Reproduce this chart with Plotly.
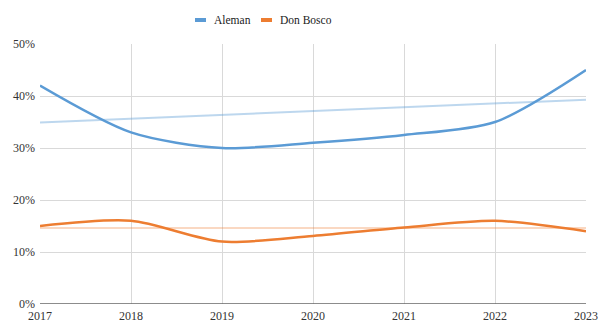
import plotly.graph_objects as go

years = [2017, 2018, 2019, 2020, 2021, 2022, 2023]
aleman = [0.42, 0.33, 0.30, 0.31, 0.325, 0.35, 0.45]
don_bosco = [0.15, 0.16, 0.12, 0.131, 0.147, 0.16, 0.14]
trend_years = [2017, 2023]
aleman_trend = [0.349, 0.393]
don_bosco_trend = [0.146, 0.146]
series_names = ["Aleman", "Don Bosco"]

blue = "#5b9bd5"
orange = "#ed7d31"

fig = go.Figure()
fig.add_trace(go.Scatter(x=trend_years, y=aleman_trend, mode="lines",
                         line=dict(color="rgba(91,155,213,0.4)", width=2),
                         showlegend=False, hoverinfo="skip"))
fig.add_trace(go.Scatter(x=trend_years, y=don_bosco_trend, mode="lines",
                         line=dict(color="rgba(237,125,49,0.4)", width=1.5),
                         showlegend=False, hoverinfo="skip"))
fig.add_trace(go.Scatter(x=years, y=aleman, mode="lines", name=series_names[0],
                         showlegend=False,
                         line=dict(color=blue, width=2.5, shape="spline", smoothing=0.8)))
fig.add_trace(go.Scatter(x=years, y=don_bosco, mode="lines", name=series_names[1],
                         showlegend=False,
                         line=dict(color=orange, width=2.5, shape="spline", smoothing=0.8)))

font = "Liberation Serif, serif"

# manual legend (short thick swatches like the reference)
legend_items = [(series_names[0], blue, 195 / 599), (series_names[1], orange, 261 / 599)]
for name, col, xs in legend_items:
    fig.add_shape(type="line", xref="paper", yref="paper",
                  x0=(xs * 599 - 40) / 546, x1=(xs * 599 + 11 - 40) / 546,
                  y0=1 + 24 / 260, y1=1 + 24 / 260,
                  line=dict(color=col, width=4))
    fig.add_annotation(text=name, xref="paper", yref="paper",
                       x=(xs * 599 + 17 - 40) / 546, y=1 + 24 / 260,
                       xanchor="left", yanchor="middle", showarrow=False,
                       font=dict(family=font, size=11.5, color="#222222"))

fig.update_layout(
    width=599, height=323,
    margin=dict(l=40, r=13, t=44, b=19),
    paper_bgcolor="white", plot_bgcolor="white",
    font=dict(family=font, size=12, color="#333333"),
    showlegend=False,
    xaxis=dict(range=[2017, 2023], tickmode="array", tickvals=years,
               ticktext=[str(y) for y in years], automargin=False,
               showgrid=True, gridcolor="#d9d9d9", gridwidth=1.2,
               zeroline=False, showline=False, ticks="", ticklabelstandoff=3,
               tickfont=dict(family=font, size=12, color="#333333")),
    yaxis=dict(range=[0, 0.5], tickvals=[0, 0.1, 0.2, 0.3, 0.4, 0.5], automargin=False,
               tickformat=".0%", showgrid=True, gridcolor="#d9d9d9", gridwidth=1.2,
               zeroline=False, showline=False, ticks="", ticklabelstandoff=4,
               tickfont=dict(family=font, size=12, color="#333333")),
)
fig.add_shape(type="line", xref="paper", yref="y", x0=0, x1=1, y0=0, y1=0,
              line=dict(color="#666666", width=1.5))

fig.write_html("out.html")
